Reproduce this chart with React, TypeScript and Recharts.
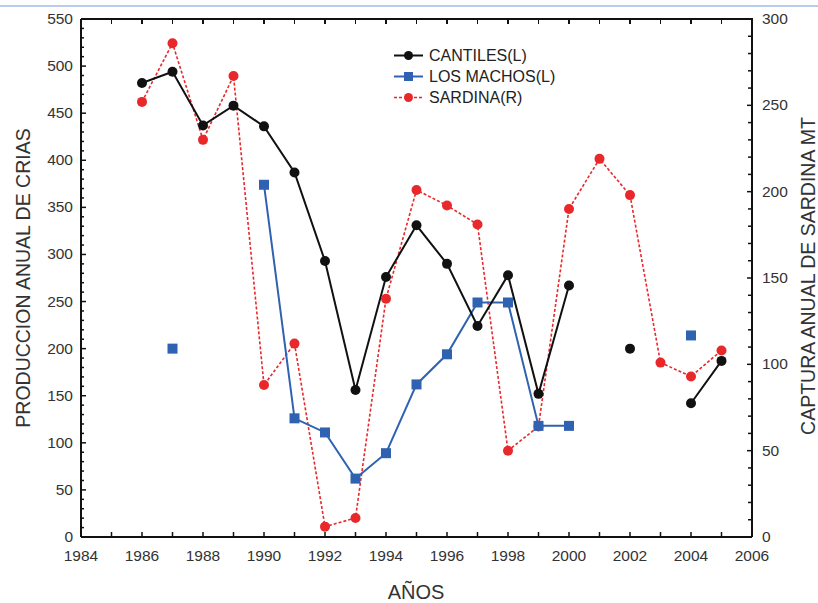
import React from 'react';
import { ComposedChart, Line, XAxis, YAxis } from 'recharts';

// years with data
const years = [1986, 1987, 1988, 1989, 1990, 1991, 1992, 1993, 1994, 1995, 1996, 1997, 1998, 1999, 2000, 2001, 2002, 2003, 2004, 2005];
// pup production (left axis)
const cantiles = [482, 494, 437, 458, 436, 387, 293, 156, 276, 331, 290, 224, 278, 152, 267, null, 200, null, 142, 187];
const losMachos = [null, 200, null, null, 374, 126, 111, 62, 89, 162, 194, 249, 249, 118, 118, null, null, null, 214, null];
// sardine catch (right axis)
const sardina = [252, 286, 230, 267, 88, 112, 6, 11, 138, 201, 192, 181, 50, 64, 190, 219, 198, 101, 93, 108];

const xTicks = [1984, 1985, 1986, 1987, 1988, 1989, 1990, 1991, 1992, 1993, 1994, 1995, 1996, 1997, 1998, 1999, 2000, 2001, 2002, 2003, 2004, 2005, 2006];
const leftLabels = [0, 50, 100, 150, 200, 250, 300, 350, 400, 450, 500, 550];
const rightLabels = [0, 50, 100, 150, 200, 250, 300];

// minor ticks every 10 units
const minorTicks = (max: number) => Array.from({ length: max / 10 + 1 }, (_, i) => i * 10);
const leftTicks = minorTicks(550);
const rightTicks = minorTicks(300);

const data = years.map((year, i) => ({
  year,
  cantiles: cantiles[i],
  losMachos: losMachos[i],
  sardina: sardina[i],
}));

const FONT = '"Liberation Sans", Arial, sans-serif';
const TEXT = '#333';
const AXIS = '#111';
const BLACK = '#111';
const BLUE = '#2f62b0';
const RED = '#e8282b';

// plot frame (for the top border overlay)
const PLOT_LEFT = 81;
const PLOT_RIGHT = 752;
const PLOT_TOP = 19;

const BottomTick = (props: any) => {
  const { x, y, payload } = props;
  const v = payload.value;
  return (
    <g>
      <line x1={x} y1={y} x2={x} y2={y - 5} stroke={AXIS} strokeWidth={1.5} />
      {v % 2 === 0 && (
        <text x={x} y={y + 24} textAnchor="middle" fontSize={15.5} fontFamily={FONT} fill={TEXT}>
          {v}
        </text>
      )}
    </g>
  );
};

const LeftTick = (props: any) => {
  const { x, y, payload } = props;
  const v = payload.value;
  const major = leftLabels.includes(v);
  return (
    <g>
      <line x1={x} y1={y} x2={x + (major ? 5 : 3)} y2={y} stroke={AXIS} strokeWidth={1.5} />
      {major && (
        <text x={x - 8} y={y + 5} textAnchor="end" fontSize={15.5} fontFamily={FONT} fill={TEXT}>
          {v}
        </text>
      )}
    </g>
  );
};

const RightTick = (props: any) => {
  const { x, y, payload } = props;
  const v = payload.value;
  const major = rightLabels.includes(v);
  return (
    <g>
      <line x1={x} y1={y} x2={x - (major ? 5 : 4)} y2={y} stroke={AXIS} strokeWidth={1.5} />
      {major && (
        <text x={x + 10} y={y + 5} textAnchor="start" fontSize={15.5} fontFamily={FONT} fill={TEXT}>
          {v}
        </text>
      )}
    </g>
  );
};

const SquareDot = (props: any) => {
  const { cx, cy, value, index } = props;
  if (value == null || cx == null || cy == null) return <g key={`sq-${index}`} />;
  return <rect key={`sq-${index}`} x={cx - 5} y={cy - 5} width={10} height={10} fill={BLUE} />;
};

const legendItems = [
  { label: 'CANTILES(L)', color: BLACK, dash: undefined, shape: 'circle' },
  { label: 'LOS MACHOS(L)', color: BLUE, dash: undefined, shape: 'square' },
  { label: 'SARDINA(R)', color: RED, dash: '3 2', shape: 'circle' },
];

export default function App() {
  const span = xTicks[xTicks.length - 1] - xTicks[0];
  return (
    <div style={{ position: 'absolute', left: 0, top: 0, width: 818, height: 603, background: '#fff', fontFamily: FONT }}>
      <div style={{ position: 'absolute', left: 0, top: 5, width: 818, height: 2, background: '#b8cde9' }} />
      <ComposedChart width={818} height={603} data={data} margin={{ top: PLOT_TOP, right: 0, bottom: 0, left: 0 }}>
        <XAxis
          xAxisId="bottom"
          dataKey="year"
          type="number"
          domain={[1984, 2006]}
          ticks={xTicks}
          interval={0}
          height={66}
          tickSize={0}
          tickMargin={0}
          tickLine={false}
          tick={<BottomTick />}
          axisLine={{ stroke: AXIS, strokeWidth: 2 }}
        />
        <YAxis
          yAxisId="left"
          domain={[0, 550]}
          ticks={leftTicks}
          interval={0}
          width={81}
          tickSize={0}
          tickMargin={0}
          tickLine={false}
          tick={<LeftTick />}
          axisLine={{ stroke: AXIS, strokeWidth: 2 }}
        />
        <YAxis
          yAxisId="right"
          orientation="right"
          domain={[0, 300]}
          ticks={rightTicks}
          interval={0}
          width={66}
          tickSize={0}
          tickMargin={0}
          tickLine={false}
          tick={<RightTick />}
          axisLine={{ stroke: AXIS, strokeWidth: 2 }}
        />
        <Line
          xAxisId="bottom"
          yAxisId="right"
          dataKey="sardina"
          stroke={RED}
          strokeWidth={1.6}
          strokeDasharray="3 2"
          dot={{ r: 5, fill: RED, stroke: RED, strokeWidth: 0, strokeDasharray: '' }}
          isAnimationActive={false}
        />
        <Line
          xAxisId="bottom"
          yAxisId="left"
          dataKey="losMachos"
          stroke={BLUE}
          strokeWidth={2}
          dot={<SquareDot />}
          isAnimationActive={false}
        />
        <Line
          xAxisId="bottom"
          yAxisId="left"
          dataKey="cantiles"
          stroke={BLACK}
          strokeWidth={2}
          dot={{ r: 5, fill: BLACK, stroke: BLACK, strokeWidth: 0 }}
          isAnimationActive={false}
        />
      </ComposedChart>
      {/* top frame with inward ticks */}
      <div style={{ position: 'absolute', left: PLOT_LEFT, top: PLOT_TOP - 1, width: PLOT_RIGHT - PLOT_LEFT + 1, height: 2, background: AXIS }} />
      {xTicks.map((yr) => (
        <div
          key={yr}
          style={{
            position: 'absolute',
            left: PLOT_LEFT + ((yr - xTicks[0]) / span) * (PLOT_RIGHT - PLOT_LEFT) - 0.75,
            top: PLOT_TOP,
            width: 1.5,
            height: 5,
            background: AXIS,
          }}
        />
      ))}
      {/* legend */}
      <div style={{ position: 'absolute', left: 393, top: 45, fontSize: 16, color: '#222' }}>
        {legendItems.map((it) => (
          <div key={it.label} style={{ display: 'flex', alignItems: 'center', height: 21 }}>
            <svg width={36} height={21}>
              <line x1={1} y1={10.5} x2={30} y2={10.5} stroke={it.color} strokeWidth={it.dash ? 1.6 : 2} strokeDasharray={it.dash} />
              {it.shape === 'circle' ? (
                <circle cx={15.5} cy={10.5} r={4.5} fill={it.color} />
              ) : (
                <rect x={11} y={6} width={9} height={9} fill={it.color} />
              )}
            </svg>
            <span>{it.label}</span>
          </div>
        ))}
      </div>
      <div style={{ position: 'absolute', left: 23, top: 278, transform: 'translate(-50%, -50%) rotate(-90deg)', whiteSpace: 'nowrap', fontSize: 19.5, color: TEXT }}>
        PRODUCCION ANUAL DE CRIAS
      </div>
      <div style={{ position: 'absolute', left: 808, top: 276, transform: 'translate(-50%, -50%) rotate(-90deg)', whiteSpace: 'nowrap', fontSize: 19.5, color: TEXT }}>
        CAPTURA ANUAL DE SARDINA MT
      </div>
      <div style={{ position: 'absolute', left: 416, top: 592, transform: 'translate(-50%, -50%)', whiteSpace: 'nowrap', fontSize: 20, color: TEXT }}>
        AÑOS
      </div>
    </div>
  );
}
